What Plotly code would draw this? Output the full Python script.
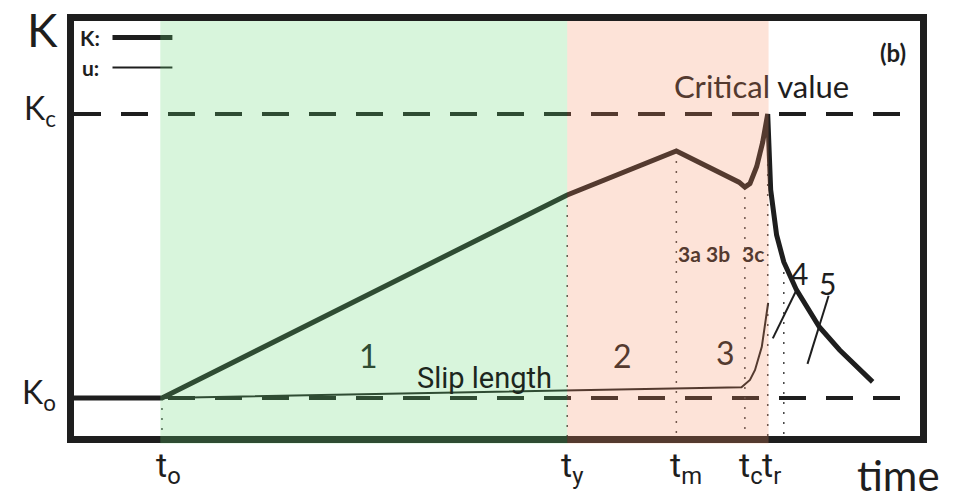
import plotly.graph_objects as go

# --- schematic values (time in arbitrary units 0..100, K in units of K0) ---
t0, ty, tm, tc, tr, t_after = 10.4, 58.3, 71.2, 79.3, 82.0, 83.9
K0, Kc = 1.0, 3.0

k_time = [0, 10.4, 58.3, 71.2, 78.6, 79.3, 79.9, 80.7, 81.4, 82.0,
          82.35, 83.05, 83.9, 85.4, 88.1, 90.5, 94.4]
k_val = [1.0, 1.0, 2.43, 2.74, 2.52, 2.485, 2.51, 2.63, 2.80, 3.0,
         2.465, 2.148, 1.958, 1.761, 1.50, 1.338, 1.113]

u_time = [10.4, 57.8, 78.9, 79.9, 80.5, 81.3, 81.8, 82.05]
u_val = [1.0, 1.05, 1.075, 1.127, 1.197, 1.36, 1.55, 1.67]

drop_time = [t0, ty, tm, tc, tr, t_after]
drop_top = [1.0, 2.43, 2.74, 2.485, 3.0, 1.958]

tick_time = [t0, ty, tm, tc, tr]
tick_sub = ["o", "y", "m", "c", "r"]

seg4_t, seg4_k = [82.6, 85.4], [1.42, 1.76]
seg5_t, seg5_k = [86.7, 89.2], [1.24, 1.72]

x_range = [0, 100]
y_range = [0.732, 3.655]

INK = "#1e1e1e"
GREEN_TXT = "#2f4c33"
BROWN_TXT = "#543a2f"
NARROW = "Roboto, sans-serif"
ROUND = "Lato, Open Sans, sans-serif"

fig = go.Figure()

# reference levels
for lev in (Kc, K0):
    fig.add_trace(go.Scatter(x=x_range, y=[lev, lev], mode="lines",
                             line=dict(color=INK, width=4, dash="27px,20px"),
                             hoverinfo="skip"))

# dotted drop lines
dx, dy = [], []
for t, top in zip(drop_time, drop_top):
    dx += [t, t, None]
    dy += [top, y_range[0], None]
fig.add_trace(go.Scatter(x=dx, y=dy, mode="lines",
                         line=dict(color="#444", width=1.5, dash="2px,8px"),
                         hoverinfo="skip"))

# u (slip length)
fig.add_trace(go.Scatter(x=u_time, y=u_val, mode="lines",
                         line=dict(color=INK, width=2), hoverinfo="skip"))
# K
fig.add_trace(go.Scatter(x=k_time, y=k_val, mode="lines",
                         line=dict(color=INK, width=5), hoverinfo="skip"))
# pointer lines for 4 and 5
for st, sk in ((seg4_t, seg4_k), (seg5_t, seg5_k)):
    fig.add_trace(go.Scatter(x=st, y=sk, mode="lines",
                             line=dict(color=INK, width=2), hoverinfo="skip"))

shapes = [
    # legend lines
    dict(type="line", xref="paper", yref="paper", x0=0.0455, x1=0.1163,
         y0=0.960, y1=0.960, line=dict(color=INK, width=5), layer="above"),
    dict(type="line", xref="paper", yref="paper", x0=0.0455, x1=0.1163,
         y0=0.888, y1=0.888, line=dict(color=INK, width=2), layer="above"),
    # stage regions, tinted over lines
    dict(type="rect", xref="x", yref="paper", x0=10.2, x1=ty, y0=-0.018, y1=1,
         fillcolor="rgba(99,215,115,0.25)", line=dict(width=0), layer="above"),
    dict(type="rect", xref="x", yref="paper", x0=ty, x1=82.1, y0=-0.018, y1=1,
         fillcolor="rgba(247,143,99,0.25)", line=dict(width=0), layer="above"),
]

ann = []
def txt(x, y, text, size, color=INK, family=ROUND, xref="x", yref="y",
        xanchor="center", yanchor="middle", **kw):
    ann.append(dict(x=x, y=y, xref=xref, yref=yref, text=text, showarrow=False,
                    xanchor=xanchor, yanchor=yanchor,
                    font=dict(size=size, color=color, family=family), **kw))

# stage numbers
txt(34.8, 1.30, "1", 32, GREEN_TXT)
txt(64.8, 1.30, "2", 32, BROWN_TXT)
txt(77.0, 1.32, "3", 32, BROWN_TXT)
txt(72.7, 2.02, "<b>3a</b>", 21, BROWN_TXT)
txt(76.1, 2.02, "<b>3b</b>", 21, BROWN_TXT)
txt(80.3, 2.02, "<b>3c</b>", 21, BROWN_TXT)
txt(85.8, 1.88, "4", 30)
txt(89.1, 1.81, "5", 30)
txt(48.5, 1.14, "Slip length", 29, "#1c261d", NARROW)
txt(81.3, 3.20, "<span style='color:%s'>Critical</span> value" % BROWN_TXT, 31)
txt(0.9675, 0.924, "<b>(b)</b>", 24, xref="paper", yref="paper")

# legend text
txt(0.0195, 0.960, "<b>K:</b>", 21, xref="paper", yref="paper")
txt(0.0195, 0.888, "<b>u:</b>", 21, xref="paper", yref="paper")

# y labels
txt(-0.037, 0.98, "K", 46, xref="paper", yref="paper")
txt(-0.019, Kc, "K<sub>c</sub>", 32, xref="paper", xanchor="right", yshift=4)
txt(-0.019, K0, "K<sub>o</sub>", 32, xref="paper", xanchor="right", yshift=4)

# x tick labels
for t, s in zip(tick_time, tick_sub):
    txt(t, -0.018, "t<sub>%s</sub>" % s, 34, family=NARROW, yref="paper",
        xanchor="left", yanchor="top", xshift=-8)
txt(0.975, -0.095, "time", 42, yref="paper", xref="paper")

axis = dict(showgrid=False, zeroline=False, showticklabels=False,
            ticks="", showline=True, mirror=True, linecolor=INK, linewidth=7,
            fixedrange=True)

# page body has an 8px margin, so the figure is 8px smaller on each side
fig.update_layout(
    width=955, height=490,
    margin=dict(l=66, r=43, t=13, b=62, autoexpand=False),
    paper_bgcolor="white", plot_bgcolor="white",
    showlegend=False,
    xaxis={**axis, "range": x_range},
    yaxis={**axis, "range": y_range},
    shapes=shapes, annotations=ann,
)

fig.write_html("out.html")
